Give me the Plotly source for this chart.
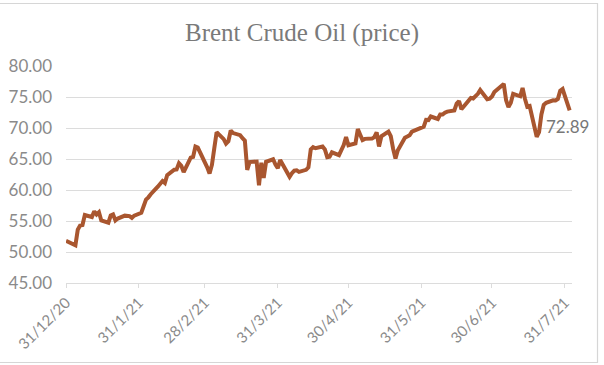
import plotly.graph_objects as go

title_text = "Brent Crude Oil (price)"

dates = [
    "2020-12-31",
    "2021-01-04", "2021-01-05", "2021-01-06", "2021-01-07", "2021-01-08",
    "2021-01-11", "2021-01-12", "2021-01-13", "2021-01-14", "2021-01-15",
    "2021-01-18", "2021-01-19", "2021-01-20", "2021-01-21", "2021-01-22",
    "2021-01-25", "2021-01-26", "2021-01-27", "2021-01-28", "2021-01-29",
    "2021-02-01", "2021-02-02", "2021-02-03", "2021-02-04", "2021-02-05",
    "2021-02-08", "2021-02-09", "2021-02-10", "2021-02-11", "2021-02-12",
    "2021-02-15", "2021-02-16", "2021-02-17", "2021-02-18", "2021-02-19",
    "2021-02-22", "2021-02-23", "2021-02-24", "2021-02-25", "2021-02-26",
    "2021-03-01", "2021-03-02", "2021-03-03", "2021-03-04", "2021-03-05",
    "2021-03-08", "2021-03-09", "2021-03-10", "2021-03-11", "2021-03-12",
    "2021-03-15", "2021-03-16", "2021-03-17", "2021-03-18", "2021-03-19",
    "2021-03-22", "2021-03-23", "2021-03-24", "2021-03-25", "2021-03-26",
    "2021-03-29", "2021-03-30", "2021-03-31", "2021-04-01",
    "2021-04-05", "2021-04-06", "2021-04-07", "2021-04-08", "2021-04-09",
    "2021-04-12", "2021-04-13", "2021-04-14", "2021-04-15", "2021-04-16",
    "2021-04-19", "2021-04-20", "2021-04-21", "2021-04-22", "2021-04-23",
    "2021-04-26", "2021-04-27", "2021-04-28", "2021-04-29", "2021-04-30",
    "2021-05-03", "2021-05-04", "2021-05-05", "2021-05-06", "2021-05-07",
    "2021-05-10", "2021-05-11", "2021-05-12", "2021-05-13", "2021-05-14",
    "2021-05-17", "2021-05-18", "2021-05-19", "2021-05-20", "2021-05-21",
    "2021-05-24", "2021-05-25", "2021-05-26", "2021-05-27", "2021-05-28",
    "2021-06-01", "2021-06-02", "2021-06-03", "2021-06-04",
    "2021-06-07", "2021-06-08", "2021-06-09", "2021-06-10", "2021-06-11",
    "2021-06-14", "2021-06-15", "2021-06-16", "2021-06-17", "2021-06-18",
    "2021-06-21", "2021-06-22", "2021-06-23", "2021-06-24", "2021-06-25",
    "2021-06-28", "2021-06-29", "2021-06-30", "2021-07-01", "2021-07-02",
    "2021-07-05", "2021-07-06", "2021-07-07", "2021-07-08", "2021-07-09",
    "2021-07-12", "2021-07-13", "2021-07-14", "2021-07-15", "2021-07-16",
    "2021-07-19", "2021-07-20", "2021-07-21", "2021-07-22", "2021-07-23",
    "2021-07-26", "2021-07-27", "2021-07-28", "2021-07-29", "2021-07-30",
    "2021-08-02",
]

prices = [
    51.80,
    51.09, 53.60, 54.30, 54.38, 55.99,
    55.66, 56.58, 56.06, 56.42, 55.10,
    54.75, 55.90, 56.08, 55.10, 55.41,
    55.88, 55.91, 55.81, 55.53, 55.88,
    56.35, 57.46, 58.46, 58.84, 59.34,
    60.56, 61.09, 61.47, 61.14, 62.43,
    63.30, 63.35, 64.34, 63.93, 62.91,
    65.24, 65.37, 67.04, 66.88, 66.13,
    63.69, 62.70, 64.07, 66.74, 69.36,
    68.24, 67.52, 67.90, 69.63, 69.22,
    68.88, 68.39, 68.00, 63.28, 64.53,
    64.62, 60.79, 64.41, 61.95, 64.57,
    64.98, 64.14, 63.54, 64.86,
    62.15, 62.74, 63.16, 63.20, 62.95,
    63.28, 63.67, 66.58, 66.94, 66.77,
    67.05, 66.57, 65.32, 65.40, 66.11,
    65.65, 66.42, 67.27, 68.56, 67.25,
    67.56, 69.88, 68.96, 68.09, 68.28,
    68.32, 68.55, 69.32, 67.05, 68.71,
    69.46, 68.71, 66.66, 65.11, 66.44,
    68.46, 68.65, 68.87, 69.46, 69.63,
    70.25, 71.35, 71.31, 71.89,
    71.49, 72.22, 72.22, 72.52, 72.69,
    72.86, 73.99, 74.39, 73.08, 73.51,
    74.90, 74.81, 75.19, 75.56, 76.18,
    74.68, 74.76, 75.13, 75.84, 76.17,
    77.16, 74.53, 73.43, 74.12, 75.55,
    75.16, 76.49, 74.76, 73.47, 73.59,
    68.62, 69.35, 72.23, 73.79, 74.10,
    74.50, 74.48, 74.74, 76.05, 76.33,
    72.89,
]

tick_dates = ["2020-12-31", "2021-01-31", "2021-02-28", "2021-03-31",
              "2021-04-30", "2021-05-31", "2021-06-30", "2021-07-31"]
tick_labels = ["31/12/20", "31/1/21", "28/2/21", "31/3/21",
               "30/4/21", "31/5/21", "30/6/21", "31/7/21"]

y_ticks = [45, 50, 55, 60, 65, 70, 75, 80]
y_tick_labels = ["45.00", "50.00", "55.00", "60.00", "65.00", "70.00", "75.00", "80.00"]

line_color = "#A9562F"
grid_color = "#DCDCDC"
text_color = "#8A8A8A"

fig = go.Figure()
fig.add_trace(go.Scatter(
    x=dates, y=prices, mode="lines",
    line=dict(color=line_color, width=4),
    hoverinfo="skip", showlegend=False,
))
fig.add_annotation(
    x=dates[-1], y=prices[-1], text=f"{prices[-1]:.2f}",
    showarrow=False, xanchor="center", yanchor="top",
    xshift=-2, yshift=-4,
    font=dict(family="Lato", size=17, color="#777777"),
)

L, R, T, B = 66, 32, 66, 82
W, H = 604, 365
pw, ph = W - L - R, H - T - B

def px_to_paper_x(px):
    return (px - L) / pw

def px_to_paper_y(py):
    return (H - B - py) / ph

fig.add_shape(type="rect", xref="paper", yref="paper",
              x0=px_to_paper_x(-2), x1=px_to_paper_x(597.5),
              y0=px_to_paper_y(362.5), y1=px_to_paper_y(3.5),
              line=dict(color="#D6D6D6", width=1.2), fillcolor="rgba(0,0,0,0)",
              layer="above")

fig.update_layout(
    width=W, height=H,
    margin=dict(l=L, r=R, t=T, b=B, autoexpand=False),
    paper_bgcolor="white", plot_bgcolor="white",
    title=dict(text=title_text, x=0.5, xanchor="center", xref="container",
               y=1 - 32 / H, yanchor="middle", yref="container",
               font=dict(family="Liberation Serif", size=25, color="#7A7A7A")),
    xaxis=dict(
        type="date", automargin=False,
        range=["2020-12-31", "2021-08-03"],
        tickvals=tick_dates, ticktext=tick_labels, tickangle=-45,
        showgrid=False, showline=True, linecolor=grid_color, linewidth=1,
        ticks="outside", ticklen=4, tickcolor=grid_color,
        tickfont=dict(family="Lato", size=15, color=text_color),
        zeroline=False,
    ),
    yaxis=dict(
        automargin=False,
        range=[45, 80.05],
        tickvals=y_ticks, ticktext=y_tick_labels,
        showgrid=True, gridcolor=grid_color, gridwidth=1,
        zeroline=False, showline=False,
        tickfont=dict(family="Lato", size=17, color=text_color),
        ticks="", ticklabelstandoff=13,
    ),
)

fig.write_html("out.html",
               config={"displayModeBar": False, "staticPlot": True},
               post_script="document.body.style.margin='0';document.body.style.overflow='hidden';")
